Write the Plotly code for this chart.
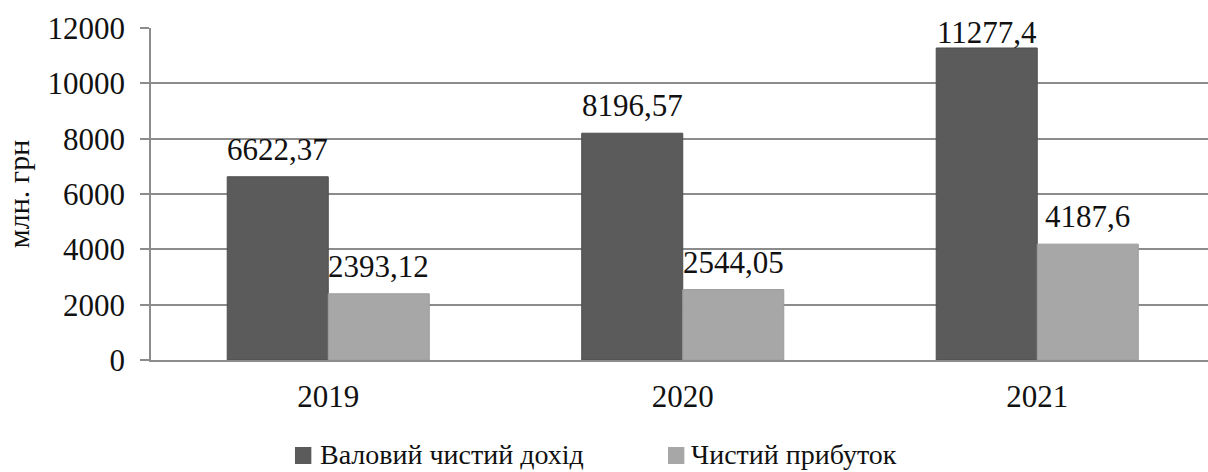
import plotly.graph_objects as go

years = ["2019", "2020", "2021"]
gross_income = [6622.37, 8196.57, 11277.4]
net_profit = [2393.12, 2544.05, 4187.6]
series_names = ["Валовий чистий дохід", "Чистий прибуток"]
series_colors = ["#5b5b5b", "#a7a7a7"]
edge_colors = ["#4e4e4e", "#9c9c9c"]
y_ticks = [0, 2000, 4000, 6000, 8000, 10000, 12000]
y_title = "млн. грн"


def fmt(v):
    s = f"{v:.2f}".rstrip("0").rstrip(".")
    return s.replace(".", ",")


FONT = "Liberation Serif"
GRID = "#8c8c8c"
INK = "#111111"
BARGAP = 0.43

fig = go.Figure()
all_series = [gross_income, net_profit]
for vals, name, fill, edge in zip(all_series, series_names, series_colors, edge_colors):
    fig.add_trace(go.Bar(
        x=years, y=vals, name=name,
        marker=dict(color=fill, line=dict(color=edge, width=1)),
    ))

# value labels above each bar, placed over the bar's slot within its group
group_w = 1 - BARGAP
for k, vals in enumerate(all_series):
    side = -0.5 if k == 0 else 0.5
    for i, v in enumerate(vals):
        shift = 8 if v < 11000 else -4
        fig.add_annotation(
            x=i + side * group_w / 2, y=v, xref="x", yref="y",
            text=fmt(v), showarrow=False, yanchor="bottom", yshift=shift,
            font=dict(family=FONT, size=31, color=INK),
        )

# legend row below the axis: square swatch + label per series
legend_items = [(0.1362, 0.158), (0.4891, 0.509)]
for (sx, tx), name, fill in zip(legend_items, series_names, series_colors):
    fig.add_shape(type="rect", xref="paper", yref="paper",
                  x0=sx, x1=sx + 0.0155, y0=-0.3133, y1=-0.262,
                  fillcolor=fill, line=dict(color=fill, width=0))
    fig.add_annotation(x=tx, y=-0.286, xref="paper", yref="paper",
                       xanchor="left", yanchor="middle", showarrow=False,
                       text=name, font=dict(family=FONT, size=28, color=INK))

fig.update_layout(
    width=1208, height=472,
    margin=dict(l=151, r=0, t=28, b=112),
    paper_bgcolor="white", plot_bgcolor="white",
    font=dict(family=FONT, size=31, color=INK),
    barmode="group", bargap=BARGAP, bargroupgap=0,
    showlegend=False,
    xaxis=dict(type="category", range=[-0.5, 2.4817], showgrid=False,
               showline=True, linecolor=GRID, linewidth=1.5, ticks="",
               ticklabelstandoff=8, tickfont=dict(size=31)),
    yaxis=dict(range=[0, 12000], tickvals=y_ticks, ticktext=[str(t) for t in y_ticks],
               showgrid=True, gridcolor=GRID, gridwidth=1.5,
               showline=True, linecolor=GRID, linewidth=1.5,
               ticks="outside", ticklen=9, tickcolor=GRID, tickwidth=1.5,
               ticklabelstandoff=9, zeroline=False,
               title=dict(text=y_title, font=dict(size=30), standoff=9),
               tickfont=dict(size=31)),
)

fig.write_html("out.html")
